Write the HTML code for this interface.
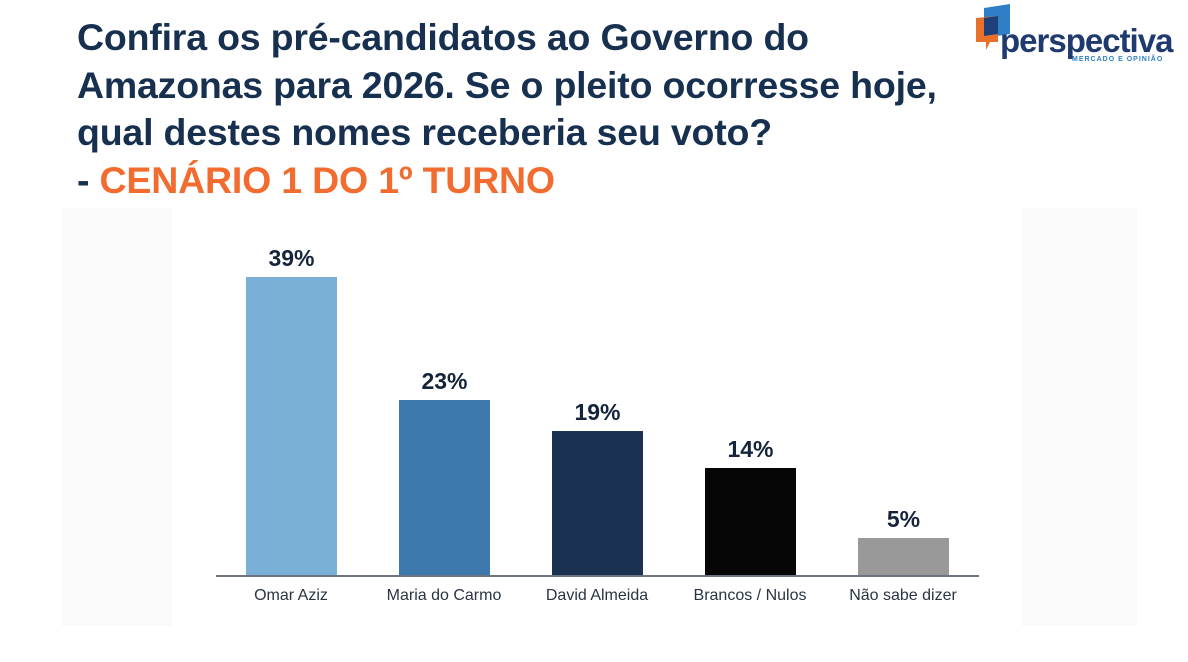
<!DOCTYPE html>
<html><head><meta charset="utf-8"><style>
body{margin:0;width:1188px;height:662px;background:#fff;overflow:hidden;position:relative;font-family:"Liberation Sans","DejaVu Sans",sans-serif}
.t{position:absolute;left:77px;top:14px;font-size:37.5px;font-weight:bold;color:#17304f;line-height:47.5px;letter-spacing:-0.2px}
.t .o{color:#f26b2f}
.panel{position:absolute;left:62px;top:208px;width:1075px;height:418px;background:#fafafa}
.bar{position:absolute;width:91px}
.v{position:absolute;width:91px;text-align:center;font-size:23px;font-weight:bold;color:#15243a}
.l{position:absolute;width:160px;text-align:center;font-size:16px;color:#2a3442;top:587px}
</style></head><body>
<div class="panel"></div>
<div style="position:absolute;left:172px;top:208px;width:850px;height:454px;background:#fff"></div>
<div class="t">Confira os pré-candidatos ao Governo do<br>Amazonas para 2026. Se o pleito ocorresse hoje,<br>qual destes nomes receberia seu voto?<br>- <span class="o">CENÁRIO 1 DO 1º TURNO</span></div>
<svg style="position:absolute;left:972px;top:4px" width="40" height="50">
<polygon points="12,4 38,0 38,30 12,34" fill="#2f7fc6"/>
<polygon points="4,14 26,12 26,38 18,38 14,46 14,38 4,38" fill="#e8702a"/>
<polygon points="12,14 26,12 26,30 12,32" fill="#1f3f7a"/>
</svg>
<div style="position:absolute;left:1000px;top:22px;font-size:33px;font-weight:bold;color:#1e3a6e;letter-spacing:-1px;line-height:38px">perspectiva</div>
<div style="position:absolute;left:1072px;top:56px;font-size:7px;font-weight:bold;color:#2f7fc6;letter-spacing:1px">MERCADO E OPINIÃO</div>
<div class="bar" style="left:246px;top:277px;height:299px;background:#7ab0d6"></div>
<div class="bar" style="left:399px;top:400px;height:176px;background:#3e79ae"></div>
<div class="bar" style="left:552px;top:431px;height:145px;background:#1b3152"></div>
<div class="bar" style="left:705px;top:468px;height:108px;background:#050505"></div>
<div class="bar" style="left:858px;top:538px;height:38px;background:#999"></div>
<div class="v" style="left:246px;top:245px">39%</div>
<div class="v" style="left:399px;top:368px">23%</div>
<div class="v" style="left:552px;top:399px">19%</div>
<div class="v" style="left:705px;top:436px">14%</div>
<div class="v" style="left:858px;top:506px">5%</div>
<div style="position:absolute;left:216px;top:575px;width:763px;height:1.5px;background:#6b7480"></div>
<div class="l" style="left:211px">Omar Aziz</div>
<div class="l" style="left:364px">Maria do Carmo</div>
<div class="l" style="left:517px">David Almeida</div>
<div class="l" style="left:670px">Brancos / Nulos</div>
<div class="l" style="left:823px">Não sabe dizer</div>
</body></html>
